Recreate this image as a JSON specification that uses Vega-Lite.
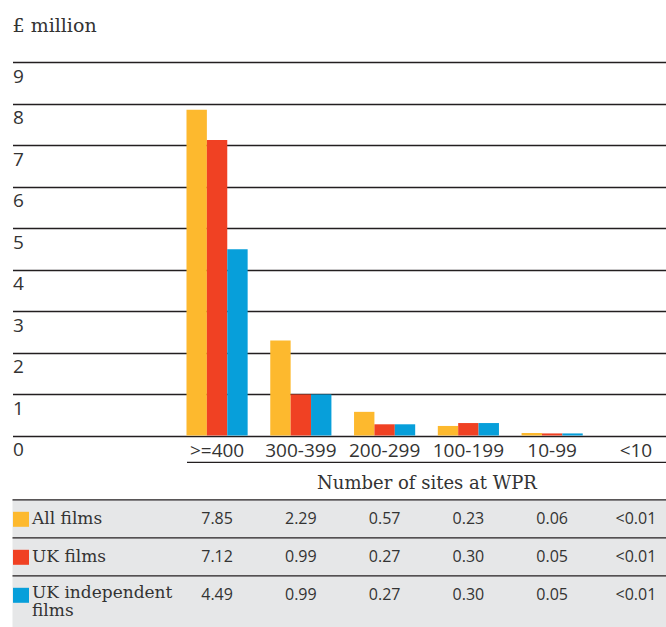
{
  "$schema": "https://vega.github.io/schema/vega-lite/v6.json",
  "padding": {"left": 4.5, "top": 17, "right": 0, "bottom": 0},
  "background": "white",
  "title": {"text": "£ million", "anchor": "start", "frame": "group", "font": "DejaVu Serif", "fontSize": 19, "fontWeight": "normal", "color": "#333333", "offset": 26},
  "datasets": {
    "films": [
      {"category": ">=400", "series": "All films", "value": 7.85, "label": "7.85"},
      {"category": "300-399", "series": "All films", "value": 2.29, "label": "2.29"},
      {"category": "200-299", "series": "All films", "value": 0.57, "label": "0.57"},
      {"category": "100-199", "series": "All films", "value": 0.23, "label": "0.23"},
      {"category": "10-99", "series": "All films", "value": 0.06, "label": "0.06"},
      {"category": "<10", "series": "All films", "value": null, "label": "<0.01"},
      {"category": ">=400", "series": "UK films", "value": 7.12, "label": "7.12"},
      {"category": "300-399", "series": "UK films", "value": 0.99, "label": "0.99"},
      {"category": "200-299", "series": "UK films", "value": 0.27, "label": "0.27"},
      {"category": "100-199", "series": "UK films", "value": 0.30, "label": "0.30"},
      {"category": "10-99", "series": "UK films", "value": 0.05, "label": "0.05"},
      {"category": "<10", "series": "UK films", "value": null, "label": "<0.01"},
      {"category": ">=400", "series": "UK independent films", "value": 4.49, "label": "4.49"},
      {"category": "300-399", "series": "UK independent films", "value": 0.99, "label": "0.99"},
      {"category": "200-299", "series": "UK independent films", "value": 0.27, "label": "0.27"},
      {"category": "100-199", "series": "UK independent films", "value": 0.30, "label": "0.30"},
      {"category": "10-99", "series": "UK independent films", "value": 0.05, "label": "0.05"},
      {"category": "<10", "series": "UK independent films", "value": null, "label": "<0.01"}
    ]
  },
  "bounds": "flush",
  "spacing": 63.8,
  "resolve": {"scale": {"x": "independent"}, "axis": {"x": "independent"}},
  "vconcat": [
    {
      "width": 654,
      "height": 373.5,
      "data": {"name": "films"},
      "mark": {"type": "bar"},
      "encoding": {
        "x": {
          "field": "category", "type": "nominal",
          "scale": {"type": "band", "domain": ["", ">=400", "300-399", "200-299", "100-199", "10-99", "<10"], "paddingInner": 0.27, "paddingOuter": 0.5385, "align": 1},
          "axis": null
        },
        "xOffset": {"field": "series", "type": "nominal", "sort": ["All films", "UK films", "UK independent films"]},
        "y": {
          "field": "value", "type": "quantitative",
          "scale": {"domain": [0, 9], "nice": false},
          "axis": {
            "values": [0, 1, 2, 3, 4, 5, 6, 7, 8, 9], "title": null,
            "grid": true, "gridColor": "#231f20", "gridWidth": 1.3,
            "domain": false, "ticks": false, "tickSize": 0,
            "labelAlign": "left", "labelBaseline": "alphabetic", "labelOffset": 20, "labelPadding": 0,
            "labelFont": "Open Sans", "labelFontSize": 19, "labelColor": "#333333"
          }
        },
        "color": {
          "field": "series", "type": "nominal",
          "scale": {"domain": ["All films", "UK films", "UK independent films"], "range": ["#FDB92E", "#F04123", "#079FDA"]},
          "legend": null
        }
      }
    },
    {
      "width": 654,
      "height": 128,
      "data": {"name": "films"},
      "view": {"fill": "#e6e7e8", "stroke": null},
      "layer": [
        {
          "transform": [{"filter": "datum.category === '>=400'"}],
          "mark": {"type": "rule", "color": "#231f20", "strokeWidth": 1.3},
          "encoding": {
            "y": {
              "field": "series", "type": "nominal", "bandPosition": 0,
              "sort": ["All films", "UK films", "UK independent films"],
              "scale": {"paddingInner": 0, "paddingOuter": 0.184, "align": 0}
            }
          }
        },
        {
          "mark": {"type": "text", "font": "Open Sans", "fontSize": 16, "color": "#333333"},
          "encoding": {
            "x": {
              "field": "category", "type": "nominal",
              "sort": [">=400", "300-399", "200-299", "100-199", "10-99", "<10"],
              "scale": {"type": "band", "range": [174, 654], "paddingInner": 0.27, "paddingOuter": 0},
              "axis": {
                "orient": "top", "offset": 38,
                "title": "Number of sites at WPR",
                "titleFont": "DejaVu Serif", "titleFontSize": 18, "titleFontWeight": "normal", "titleColor": "#333333",
                "titleBaseline": "alphabetic", "titleY": 27,
                "domain": true, "domainColor": "#231f20", "domainWidth": 1.3,
                "ticks": false, "tickSize": 0, "grid": false,
                "labelAngle": 0, "labelFont": "Open Sans", "labelFontSize": 19, "labelColor": "#333333",
                "labelBaseline": "alphabetic", "labelPadding": 5
              }
            },
            "y": {
              "field": "series", "type": "nominal",
              "sort": ["All films", "UK films", "UK independent films"],
              "scale": {"paddingInner": 0, "paddingOuter": 0.184, "align": 0},
              "axis": {
                "orient": "left", "title": null, "domain": false, "grid": false,
                "ticks": true, "tickSize": -16, "tickWidth": 15, "tickCap": "butt", "bandPosition": 0.5,
                "tickColor": {"condition": [{"test": "datum.value === 'All films'", "value": "#FDB92E"}, {"test": "datum.value === 'UK films'", "value": "#F04123"}], "value": "#079FDA"},
                "labelAlign": "left", "labelBaseline": "middle", "labelPadding": -3,
                "labelFont": "DejaVu Serif", "labelFontSize": 17, "labelColor": "#333333", "labelLineHeight": 18,
                "labelExpr": "datum.value === 'UK independent films' ? ['UK independent', 'films'] : datum.label",
                "labelOffset": {"condition": {"test": "datum.value === 'UK independent films'", "value": -2}, "value": 0}
              }
            },
            "text": {"field": "label", "type": "nominal"}
          }
        }
      ]
    }
  ],
  "config": {"view": {"stroke": null}}
}
